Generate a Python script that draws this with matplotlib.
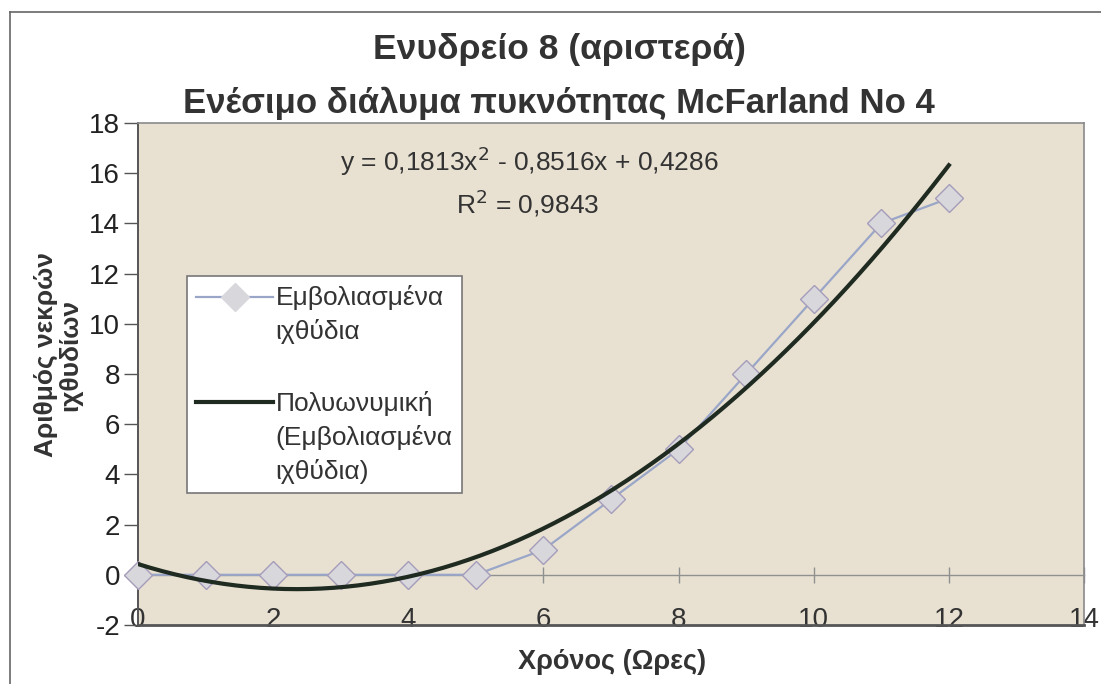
import numpy as np
import matplotlib
matplotlib.use("Agg")
import matplotlib.pyplot as plt
from matplotlib.lines import Line2D
from matplotlib.legend_handler import HandlerLine2D

plt.rcParams['font.family'] = ['Liberation Sans', 'DejaVu Sans']
plt.rcParams['axes.unicode_minus'] = False

# Hours and number of dead fish
hours = [0, 1, 2, 3, 4, 5, 6, 7, 8, 9, 10, 11, 12]
dead_fish = [0, 0, 0, 0, 0, 0, 1, 3, 5, 8, 11, 14, 15]

# Second-order polynomial trendline coefficients (a x^2 + b x + c)
coef_a, coef_b, coef_c = 0.1813, -0.8516, 0.4286
r_squared = 0.9843

title_lines = ["Ενυδρείο 8 (αριστερά)", "Ενέσιμο διάλυμα πυκνότητας McFarland No 4"]
x_label = "Χρόνος (Ωρες)"
y_label = "Αριθμός νεκρών\nιχθυδίων"
series_label = "Εμβολιασμένα\nιχθύδια"
trend_label = "Πολυωνυμική\n(Εμβολιασμένα\nιχθύδια)"
x_ticks = [0, 2, 4, 6, 8, 10, 12, 14]
y_ticks = [-2, 0, 2, 4, 6, 8, 10, 12, 14, 16, 18]

LEGEND_FS = 19
LEGEND_LS = 1.45


def comma(v):
    return f"{v:.4f}".replace('.', ',')


class FirstLineHandler(HandlerLine2D):
    """Places the legend key beside the first line of a multi-line label."""

    def __init__(self, nlines, **kw):
        super().__init__(**kw)
        self.nlines = nlines

    def create_artists(self, legend, orig_handle, xdescent, ydescent, width,
                       height, fontsize, trans):
        artists = super().create_artists(legend, orig_handle, xdescent, ydescent,
                                         width, height, fontsize, trans)
        shift = (self.nlines - 1) / 2 * LEGEND_LS * 0.93 * fontsize
        for a in artists:
            a.set_ydata(np.asarray(a.get_ydata(), dtype=float) + shift)
        return artists


W, H = 1101, 684
fig = plt.figure(figsize=(W / 100, H / 100), dpi=100)
fig.patch.set_facecolor('white')

ax = fig.add_axes([138 / W, 1 - 625 / H, (1084 - 138) / W, (625 - 123) / H])
ax.set_facecolor('#E8E1D2')
ax.set_xlim(0, 14)
ax.set_ylim(-2, 18)

# Frame of the plot area
for side in ('top', 'right'):
    ax.spines[side].set_color('#8a8a8a')
    ax.spines[side].set_linewidth(1.2)
ax.spines['left'].set_color('#555555')
ax.spines['left'].set_linewidth(1.4)
ax.spines['bottom'].set_position(('data', 0))
ax.spines['bottom'].set_color('#909090')
ax.spines['bottom'].set_linewidth(1.0)
ax.axhline(-2, color='#555555', lw=2.0, clip_on=False, zorder=3)

ax.set_xticks(x_ticks)
ax.set_yticks(y_ticks)
ax.tick_params(axis='x', direction='inout', length=12, width=1, color='#909090',
               pad=17, labelsize=20, labelcolor='#333333')
ax.tick_params(axis='y', direction='out', length=10, width=1, color='#555555',
               pad=3, labelsize=20, labelcolor='#222222')

# Polynomial trendline evaluated from the stated coefficients
xs = np.linspace(min(hours), max(hours), 200)
ys = coef_a * xs ** 2 + coef_b * xs + coef_c

ax.plot(hours, dead_fish, color='#9AA6C8', lw=1.6, marker='D', markersize=14,
        markerfacecolor='#D8D8DC', markeredgecolor='#A59CBA', markeredgewidth=1.0,
        zorder=4, clip_on=False)
ax.plot(xs, ys, color='#1F2A20', lw=3.0, zorder=5)

eq_text = f"y = {comma(coef_a)}x$^{{2}}$ - {comma(-coef_b)}x + {comma(coef_c)}"
ax.text(0.414, 0.924, eq_text, transform=ax.transAxes, ha='center', va='center',
        fontsize=19, color='#333333')
ax.text(0.412, 0.84, "R$^{2}$ = " + comma(r_squared), transform=ax.transAxes,
        ha='center', va='center', fontsize=19, color='#333333')

handles = [
    Line2D([], [], color='#9AA6C8', lw=1.6, marker='D', markersize=14,
           markerfacecolor='#D8D8DC', markeredgecolor='#D8D8DC'),
    Line2D([], [], color='#1F2A20', lw=3.0),
]
leg = ax.legend(handles, [series_label, trend_label], loc='upper left',
                bbox_to_anchor=(0.052, 0.695), fontsize=LEGEND_FS, frameon=True,
                fancybox=False, edgecolor='#777777', facecolor='white', framealpha=1,
                handlelength=2.9, handletextpad=0.1, borderpad=0.35, labelspacing=1.75,
                borderaxespad=0,
                handler_map={handles[0]: FirstLineHandler(series_label.count('\n') + 1),
                             handles[1]: FirstLineHandler(trend_label.count('\n') + 1)})
for t in leg.get_texts():
    t.set_color('#333333')
    t.set_linespacing(LEGEND_LS)
leg.get_frame().set_linewidth(1.2)

fig.text(0.508, 1 - 50 / H, title_lines[0], ha='center', va='center',
         fontsize=25.5, fontweight='bold', color='#333333')
fig.text(0.508, 1 - 103 / H, title_lines[1], ha='center', va='center',
         fontsize=25, fontweight='bold', color='#333333')

fig.text(612 / W, 1 - 662 / H, x_label, ha='center', va='center',
         fontsize=19.5, fontweight='bold', color='#333333')
fig.text(58 / W, 1 - 355 / H, y_label, ha='center', va='center', rotation=90,
         fontsize=19, fontweight='bold', color='#333333', linespacing=1.05)

# Outer chart border (top and left edges)
fig.add_artist(Line2D([10 / W, 1], [1 - 12 / H, 1 - 12 / H], color='#666666', lw=1.2))
fig.add_artist(Line2D([10 / W, 10 / W], [0, 1 - 12 / H], color='#666666', lw=1.2))

fig.savefig('out.png', dpi=100)
